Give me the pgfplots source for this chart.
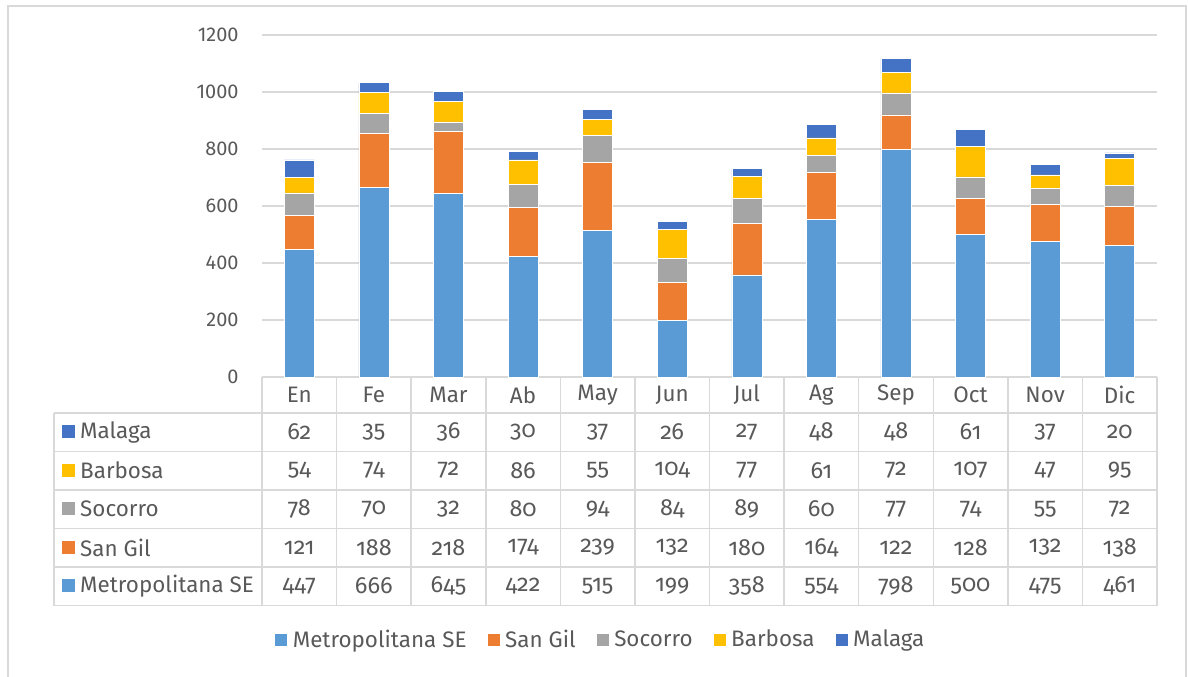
\documentclass[border=0pt]{standalone}
\usepackage{pgfplots}
\pgfplotsset{compat=1.18}
\usepackage{pgfplotstable}
\usepackage{fontspec}
\setmainfont{Fira Sans}[Numbers=OldStyle]
\newfontfamily\tickfont{Fira Sans}[Numbers=Lining]
\definecolor{cMet}{HTML}{5B9BD5}
\definecolor{cSan}{HTML}{ED7D31}
\definecolor{cSoc}{HTML}{A5A5A5}
\definecolor{cBar}{HTML}{FFC000}
\definecolor{cMal}{HTML}{4472C4}
\definecolor{txt}{HTML}{595959}
\definecolor{grd}{HTML}{D9D9D9}
\newcommand\lblfont{\fontsize{22.5}{24}\selectfont}
\newcommand\numfont{\fontsize{23.5}{25}\selectfont}

\pgfplotstableread{
x met sangil socorro barbosa malaga
0 447 121 78 54 62
1 666 188 70 74 35
2 645 218 32 72 36
3 422 174 80 86 30
4 515 239 94 55 37
5 199 132 84 104 26
6 358 180 89 77 27
7 554 164 60 61 48
8 798 122 77 72 48
9 500 128 74 107 61
10 475 132 55 47 37
11 461 138 72 95 20
}\data

\begin{document}
\fontsize{19}{22}\selectfont
\begin{tikzpicture}
\begin{scope}[x=1bp,y=-1bp]
\path[use as bounding box] (0,0) rectangle (1188,677);
\draw[grd, line width=1.5bp] (8,690) -- (8,6) -- (1186,6) -- (1186,690);
% table grid
\foreach \k in {0,...,12}{
  \draw[grd, line width=1.5bp] ({262+\k*74.583},377) -- ({262+\k*74.583},605.5);
}
\draw[grd, line width=1.5bp] (54,413) -- (54,605.5);
\foreach \yy in {413,451.5,490,528.5,567,605.5}{
  \draw[grd, line width=1.5bp] (54,\yy) -- (1157,\yy);
}
\end{scope}

\begin{axis}[
  at={(262bp,-377bp)}, anchor=south west,
  scale only axis, width=895bp, height=342bp,
  ybar stacked, bar width=30bp,
  xmin=-0.5, xmax=11.5, ymin=0, ymax=1200,
  ytick={0,200,...,1200}, xtick=\empty,
  axis x line*=bottom, axis y line*=left,
  x axis line style={draw=none}, y axis line style={draw=none},
  ytick style={draw=none},
  ymajorgrids, grid style={grd, line width=1.5bp},
  /pgf/number format/assume math mode=true,
  /pgf/number format/1000 sep={},
  yticklabel style={text=txt, font=\tickfont\fontsize{20}{22}\selectfont, xshift=-17bp},
  legend style={at={(0.378,-0.769)}, anchor=center, draw=none, fill=none,
    legend columns=-1, text=txt, font=\lblfont,
    /tikz/every even column/.append style={column sep=18bp},
    /tikz/every odd column/.append style={column sep=3bp}},
  legend image code/.code={\fill[#1] (0bp,-6bp) rectangle (13bp,7bp);},
  every axis plot/.append style={draw=white, line width=0.6bp},
]
\addplot[fill=cMet] table[x=x,y=met]{\data};
\addplot[fill=cSan] table[x=x,y=sangil]{\data};
\addplot[fill=cSoc] table[x=x,y=socorro]{\data};
\addplot[fill=cBar] table[x=x,y=barbosa]{\data};
\addplot[fill=cMal] table[x=x,y=malaga]{\data};
\legend{Metropolitana SE, San Gil, Socorro, Barbosa, Malaga}
\end{axis}

\begin{scope}[x=1bp,y=-1bp]
% header
\foreach \m [count=\i from 0] in {En,Fe,Mar,Ab,May,Jun,Jul,Ag,Sep,Oct,Nov,Dic}{
  \node[text=txt, font=\lblfont] at ({262+(\i+0.5)*74.583},395) {\m};
}
% row labels
\foreach \lab/\col/\yy in {Malaga/cMal/432, Barbosa/cBar/470.5, Socorro/cSoc/509, San Gil/cSan/547.5, Metropolitana SE/cMet/586}{
  \fill[\col] (62,{\yy+6}) rectangle (75,{\yy-7});
  \node[anchor=west, text=txt, inner sep=0pt, font=\lblfont] at (80,\yy) {\lab};
}
% values
\foreach \row/\yy in {{62,35,36,30,37,26,27,48,48,61,37,20}/432,
                      {54,74,72,86,55,104,77,61,72,107,47,95}/470.5,
                      {78,70,32,80,94,84,89,60,77,74,55,72}/509,
                      {121,188,218,174,239,132,180,164,122,128,132,138}/547.5,
                      {447,666,645,422,515,199,358,554,798,500,475,461}/586}{
  \foreach \v [count=\i from 0] in \row {
    \node[text=txt, font=\numfont] at ({262+(\i+0.5)*74.583},\yy) {\v};
  }
}
\end{scope}
\end{tikzpicture}
\end{document}
